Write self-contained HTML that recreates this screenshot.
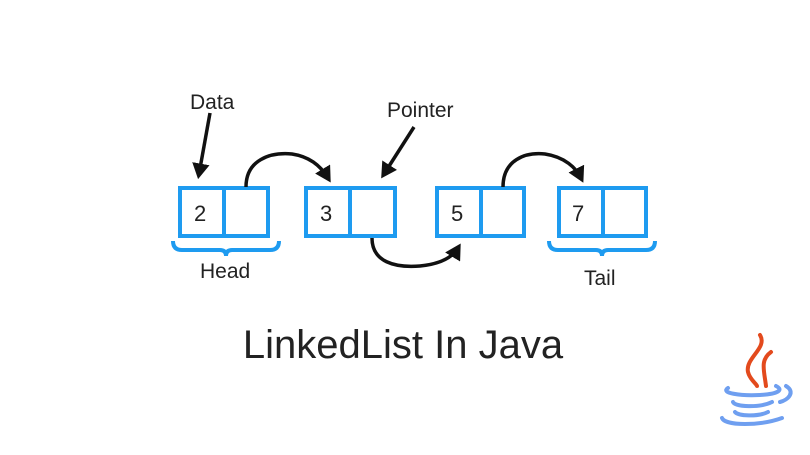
<!DOCTYPE html>
<html><head><style>
body{margin:0;width:810px;height:450px;background:#fff;overflow:hidden;font-family:"Liberation Sans",sans-serif}
</style></head><body>
<svg width="810" height="450" viewBox="0 0 810 450" xmlns="http://www.w3.org/2000/svg">
<defs><marker id="a" markerWidth="5" markerHeight="5" refX="3" refY="2.5" orient="auto" markerUnits="strokeWidth"><path d="M0,0 L4.5,2.5 L0,5 z" fill="#111"/></marker></defs>
<g fill="none" stroke="#1e9bf0" stroke-width="4">
<rect x="180" y="188" width="88" height="48"/><line x1="224" y1="188" x2="224" y2="236"/>
<rect x="306" y="188" width="89" height="48"/><line x1="350" y1="188" x2="350" y2="236"/>
<rect x="437" y="188" width="87" height="48"/><line x1="481" y1="188" x2="481" y2="236"/>
<rect x="559" y="188" width="87" height="48"/><line x1="603" y1="188" x2="603" y2="236"/>
<path d="M173,241 Q173,250 182,250 L220,250 Q226,250 226,256 Q226,250 232,250 L270,250 Q279,250 279,241"/>
<path d="M549,241 Q549,250 558,250 L596,250 Q602,250 602,256 Q602,250 608,250 L646,250 Q655,250 655,241"/>
</g>
<g fill="none" stroke="#111" stroke-width="3.5">
<path d="M246,187 C246,160 270,152 292,154 C312,157 322,168 328,178" marker-end="url(#a)"/>
<path d="M372,238 C372,262 395,268 420,266 C440,264 452,258 458,248" marker-end="url(#a)"/>
<path d="M503,187 C503,160 525,152 545,154 C565,157 576,168 581,178" marker-end="url(#a)"/>
<line x1="210" y1="113" x2="199" y2="174" marker-end="url(#a)"/>
<line x1="414" y1="127" x2="384" y2="174" marker-end="url(#a)"/>
</g>
<g fill="#222" font-size="21">
<text x="190" y="109">Data</text>
<text x="387" y="117">Pointer</text>
<text x="200" y="278">Head</text>
<text x="584" y="285">Tail</text>
<text x="194" y="221" font-size="22">2</text>
<text x="320" y="221" font-size="22">3</text>
<text x="451" y="221" font-size="22">5</text>
<text x="572" y="221" font-size="22">7</text>
<text x="403" y="358" font-size="40" text-anchor="middle">LinkedList In Java</text>
</g>
<g fill="none" stroke="#e34a1d" stroke-width="4" stroke-linecap="round">
<path d="M760,335 C768,348 745,358 748,372 C750,380 756,383 757,386"/>
<path d="M771,352 C760,360 764,370 766,386"/>
</g>
<g fill="none" stroke="#6f9ff0" stroke-width="4" stroke-linecap="round">
<path d="M728,388 C720,393 740,396 760,395 C778,394 784,390 776,386"/>
<path d="M733,402 C735,407 760,408 772,402"/>
<path d="M735,412 C738,416 758,417 768,412"/>
<path d="M722,418 C725,426 760,426 782,418"/>
<path d="M786,386 C796,392 788,400 780,402"/>
</g>
</svg>
</body></html>
